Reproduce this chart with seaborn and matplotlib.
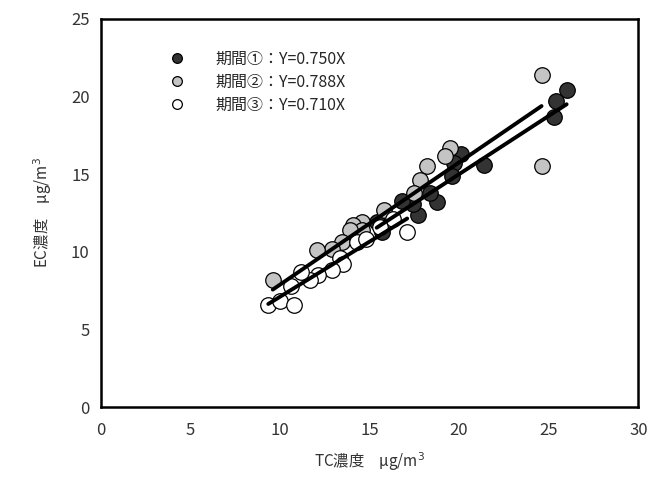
import matplotlib
matplotlib.use("Agg")
import matplotlib.pyplot as plt
import seaborn as sns
import pandas as pd
import numpy as np
from matplotlib.lines import Line2D

# Period 1 (dark)
tc1 = [26.0, 25.4, 25.3, 21.4, 20.1, 19.7, 19.6, 18.75, 18.4, 17.7, 17.4, 16.8, 15.7, 15.4]
ec1 = [20.4, 19.7, 18.7, 15.6, 16.3, 15.7, 14.9, 13.2, 13.8, 12.4, 13.1, 13.3, 11.3, 11.9]
# Period 2 (grey)
tc2 = [24.6, 24.6, 19.5, 19.2, 18.2, 17.8, 17.5, 15.8, 14.6, 14.1, 14.6, 13.9, 13.45, 12.9, 12.05, 9.6]
ec2 = [21.4, 15.5, 16.7, 16.2, 15.5, 14.6, 13.8, 12.7, 11.9, 11.7, 11.4, 11.4, 10.6, 10.2, 10.1, 8.2]
# Period 3 (white)
tc3 = [17.1, 16.3, 15.6, 14.3, 14.8, 13.35, 13.5, 12.9, 12.1, 11.7, 11.2, 10.6, 9.35, 10.0, 10.8]
ec3 = [11.3, 12.1, 11.6, 10.6, 10.8, 9.6, 9.2, 8.8, 8.5, 8.2, 8.7, 7.8, 6.6, 6.8, 6.6]

slopes = [0.750, 0.788, 0.710]
labels = ["期間①：Y=0.750X", "期間②：Y=0.788X", "期間③：Y=0.710X"]
colors = ["#333333", "#c4c4c4", "#ffffff"]

sns.set_style("white")
plt.rcParams['font.family'] = ['Noto Sans CJK JP', 'DejaVu Sans']

fig = plt.figure(figsize=(6.5, 4.84), dpi=100)
ax = fig.add_axes([0.155, 0.159, 0.827, 0.802])

series = [(tc1, ec1), (tc2, ec2), (tc3, ec3)]
for (tc, ec), c in zip(series, colors):
    df = pd.DataFrame({"TC": tc, "EC": ec})
    sns.scatterplot(data=df, x="TC", y="EC", ax=ax, s=125, color=c,
                    edgecolor="black", linewidth=0.9, zorder=3, legend=False)

for (tc, ec), s in zip(series, slopes):
    xs = np.array([min(tc), max(tc)])
    ldf = pd.DataFrame({"x": xs, "y": s * xs})
    sns.lineplot(data=ldf, x="x", y="y", ax=ax, color="black", linewidth=2.8,
                 zorder=4, legend=False)

handles = []
for lab, c in zip(labels, colors):
    handles.append(Line2D([], [], marker="o", linestyle="none", markersize=7,
                          markerfacecolor=c, markeredgecolor="black",
                          markeredgewidth=0.9, label=lab))
ax.legend(handles=handles, loc="upper left", bbox_to_anchor=(0.1, 0.935),
          frameon=False, fontsize=11.5, handletextpad=1.4,
          labelspacing=0.38, borderaxespad=0)

ax.set_xlim(0, 30)
ax.set_ylim(0, 25)
ax.set_xticks([0, 5, 10, 15, 20, 25, 30])
ax.set_yticks([0, 5, 10, 15, 20, 25])
ax.tick_params(direction="in", length=5, width=1.5, labelsize=12,
               labelcolor="#333333", pad=8, top=False, right=False)
ax.tick_params(axis="x", pad=11)
for sp in ax.spines.values():
    sp.set_linewidth(1.8)
    sp.set_color("black")
ax.set_xlabel("TC濃度　μg/m$^3$", fontsize=11, color="#333333", labelpad=8)
ax.set_ylabel("EC濃度　μg/m$^3$", fontsize=11, color="#333333", labelpad=12)

fig.savefig("out.png", dpi=100)
